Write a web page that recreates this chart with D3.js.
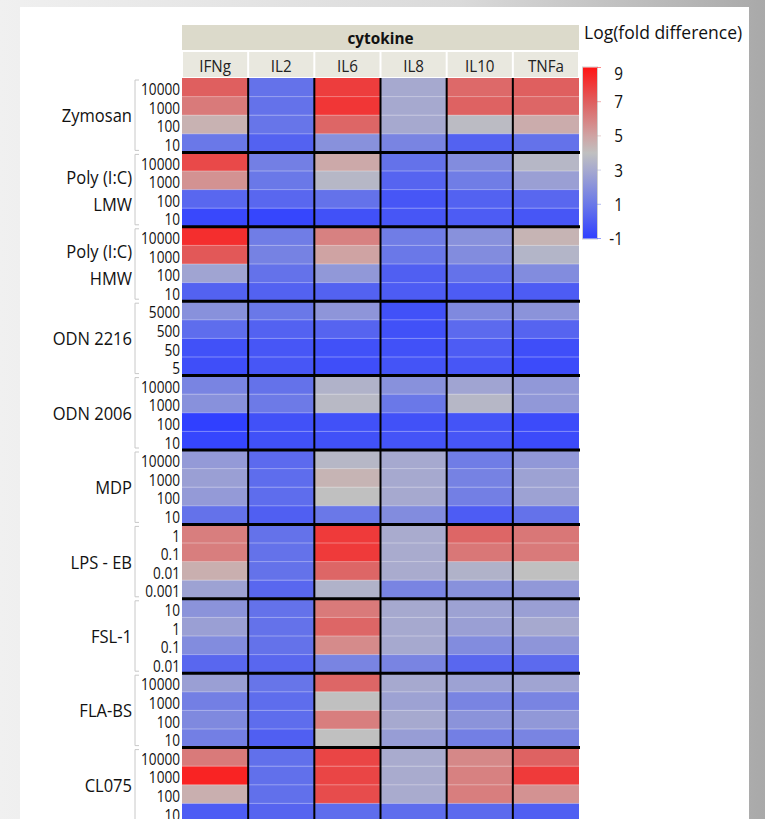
<!DOCTYPE html>
<html>
<head>
<meta charset="utf-8">
<script src="https://cdn.jsdelivr.net/npm/d3@7"></script>
<style>
  html, body { margin: 0; padding: 0; }
  body { width: 765px; height: 819px; overflow: hidden; }
  svg { display: block; font-family: "Open Sans", "Noto Sans", sans-serif; }
</style>
</head>
<body>
<svg id="chart" width="765" height="819"></svg>
<script>
// Cytokine columns
const cytokines = ["IFNg", "IL2", "IL6", "IL8", "IL10", "TNFa"];

// Stimuli (row groups), label lines
const stimuli = [
  ["Zymosan"], ["Poly (I:C)", "LMW"], ["Poly (I:C)", "HMW"], ["ODN 2216"], ["ODN 2006"],
  ["MDP"], ["LPS - EB"], ["FSL-1"], ["FLA-BS"], ["CL075"]
];

// Doses within each stimulus group
const doses = [
  ["10000", "1000", "100", "10"],
  ["10000", "1000", "100", "10"],
  ["10000", "1000", "100", "10"],
  ["5000", "500", "50", "5"],
  ["10000", "1000", "100", "10"],
  ["10000", "1000", "100", "10"],
  ["1", "0.1", "0.01", "0.001"],
  ["10", "1", "0.1", "0.01"],
  ["10000", "1000", "100", "10"],
  ["10000", "1000", "100", "10"]
];

// Log(fold difference), one array per cytokine, rows in stimulus/dose order
const ifng = [7.0, 6.2, 4.5, 1.0,  7.6, 5.5, 0.4, -0.7,  8.3, 7.2, 2.8, 0.2,  2.0, 0.6, -0.4, -0.5,  1.5, 2.0, -1.0, -0.8,
              2.4, 2.6, 2.4, 0.8,  6.1, 6.1, 4.6, 2.7,  2.1, 2.6, 1.8, 0.4,  2.6, 1.3, 1.7, 1.3,  6.2, 8.6, 4.6, 0.0];
const il2  = [0.8, 0.8, 0.9, 0.2,  1.3, 1.0, 0.4, -0.8,  1.2, 1.4, 0.8, 0.2,  1.0, 0.2, -0.2, -0.2,  0.8, 1.1, -0.4, -0.4,
              0.5, 0.6, 0.6, 0.1,  0.8, 0.8, 0.8, 0.4,  0.8, 0.8, 0.8, 0.4,  0.9, 0.6, 0.6, 0.1,  0.7, 0.7, 0.7, 0.3];
const il6  = [7.9, 8.1, 6.8, 2.0,  4.8, 3.6, 0.8, -0.4,  6.0, 5.0, 2.3, 0.2,  2.2, 0.3, -0.4, -0.5,  3.4, 3.7, -0.4, -0.4,
              3.6, 4.4, 4.0, 1.0,  8.0, 8.0, 6.8, 3.4,  6.2, 6.8, 5.7, 1.5,  6.8, 4.0, 6.1, 4.0,  7.7, 7.7, 7.5, 0.6];
const il8  = [3.0, 3.0, 3.0, 1.5,  0.8, 0.3, -0.2, -0.2,  1.2, 1.0, 0.1, 0.0,  -0.4, -0.4, -0.4, -0.3,  2.0, 1.0, -0.4, -0.3,
              3.0, 3.0, 3.0, 1.8,  3.1, 3.1, 3.1, 1.5,  3.0, 3.0, 3.0, 1.5,  3.0, 2.7, 3.0, 2.5,  3.1, 3.1, 3.1, 0.6];
const il10 = [6.7, 6.9, 3.8, 0.2,  1.8, 1.2, 0.2, 0.0,  2.0, 1.8, 0.8, 0.0,  1.7, 0.5, 0.0, -0.2,  2.8, 3.6, -0.3, -0.2,
              1.2, 1.4, 1.3, 0.0,  6.8, 6.3, 3.4, 2.0,  2.7, 2.6, 1.8, 0.4,  2.7, 1.5, 2.1, 1.3,  5.8, 6.0, 6.1, 0.5];
const tnfa = [7.0, 6.8, 4.7, 0.8,  3.6, 2.6, 0.4, -0.2,  4.4, 3.5, 1.8, 0.0,  2.1, 0.3, -0.5, -0.6,  2.3, 2.3, -0.6, -0.6,
              2.3, 2.7, 2.7, 0.8,  6.3, 6.2, 4.0, 2.3,  2.6, 3.0, 2.2, 0.5,  2.8, 1.5, 2.3, 1.5,  6.9, 8.0, 5.5, 0.1];

// Legend ticks and colour ramp stops
const legendTicks = [9, 7, 5, 3, 1, -1];
const rampValues = [-1, 1, 3, 4, 5, 7, 9];
const rampColors = ["#3040ff", "#6a78e8", "#a6a9cf", "#c0c0c0", "#cfa3a3", "#df5f5f", "#ff1414"];

const series = [ifng, il2, il6, il8, il10, tnfa];

const svg = d3.select("#chart");

// Page backdrop and white panel
const defs = svg.append("defs");
const bg = defs.append("linearGradient").attr("id", "bg").attr("x1", "0").attr("x2", "1").attr("y1", "0").attr("y2", "0");
bg.append("stop").attr("offset", "0").attr("stop-color", "#f0f0f0");
bg.append("stop").attr("offset", "0.6").attr("stop-color", "#dadada");
bg.append("stop").attr("offset", "1").attr("stop-color", "#a9a9a9");
svg.append("rect").attr("width", 765).attr("height", 819).attr("fill", "url(#bg)");
svg.append("rect").attr("x", 20).attr("y", 7).attr("width", 729).attr("height", 812).attr("fill", "#ffffff");

const color = d3.scaleLinear().domain(rampValues).range(rampColors).clamp(true);

// Layout of the map
const mapLeft = 182, mapRight = 579, mapTop = 78;
const groupH = 74.4, nGroups = stimuli.length;
const rowsPerGroup = 4;

const x = d3.scaleBand().domain(cytokines).range([mapLeft, mapRight]).padding(0);
const y = d3.scaleBand().domain(d3.range(nGroups * rowsPerGroup)).range([mapTop, mapTop + groupH * nGroups]).padding(0);

// helper: condensed text
function label(parent, tx, ty, str, opts) {
  const g = parent.append("g").attr("transform", `translate(${tx},${ty}) scale(${opts.sx || 1},1)`);
  return g.append("text")
    .attr("text-anchor", opts.anchor || "start")
    .attr("font-size", opts.size)
    .attr("font-weight", opts.weight || "normal")
    .attr("fill", opts.fill || "#111")
    .text(str);
}

// Header bands
svg.append("rect").attr("x", mapLeft).attr("y", 25).attr("width", mapRight - mapLeft).attr("height", 25).attr("fill", "#dcdacb");
label(svg, (mapLeft + mapRight) / 2, 44, "cytokine", { anchor: "middle", size: 16.5, weight: "bold", sx: 0.93 });
const colHead = svg.append("g");
cytokines.forEach(c => {
  colHead.append("rect").attr("x", x(c) + 1).attr("y", 52).attr("width", x.bandwidth() - 2).attr("height", 25).attr("fill", "#e9e8df");
  label(colHead, x(c) + x.bandwidth() / 2, 72, c, { anchor: "middle", size: 16.5, sx: 0.92, fill: "#222" });
});

// Cells
const cells = [];
series.forEach((vals, ci) => vals.forEach((v, ri) => cells.push({ c: cytokines[ci], r: ri, v })));
svg.append("g").selectAll("rect").data(cells).join("rect")
  .attr("x", d => x(d.c))
  .attr("y", d => y(d.r))
  .attr("width", x.bandwidth())
  .attr("height", y.bandwidth() + 0.5)
  .attr("fill", d => color(d.v));

// Faint row separators within groups
const rowLines = svg.append("g").attr("stroke", "#ffffff").attr("stroke-opacity", 0.35).attr("stroke-width", 1);
d3.range(nGroups * rowsPerGroup).filter(r => r % rowsPerGroup !== 0).forEach(r => {
  rowLines.append("line").attr("x1", mapLeft).attr("x2", mapRight).attr("y1", y(r)).attr("y2", y(r));
});

// Column separators
const colLines = svg.append("g").attr("stroke", "#000").attr("stroke-width", 2);
cytokines.slice(1).forEach(c => {
  colLines.append("line").attr("x1", x(c)).attr("x2", x(c)).attr("y1", mapTop).attr("y2", 819);
});

// Group separators
const grpLines = svg.append("g").attr("stroke", "#000").attr("stroke-width", 3);
d3.range(1, nGroups).forEach(g => {
  const yy = y(g * rowsPerGroup);
  grpLines.append("line").attr("x1", mapLeft).attr("x2", mapRight + 1).attr("y1", yy).attr("y2", yy);
});

// Row labels: doses, brackets and stimulus names
const rowLab = svg.append("g");
stimuli.forEach((lines, gi) => {
  const g0 = y(gi * rowsPerGroup), g1 = g0 + groupH;
  rowLab.append("path")
    .attr("d", `M139,${g0 + 2}H135V${g1 - 2}H139`)
    .attr("fill", "none").attr("stroke", "#c8c8c8").attr("stroke-width", 1);
  doses[gi].forEach((d, k) => {
    const r = gi * rowsPerGroup + k;
    label(rowLab, 180, y(r) + y.bandwidth() - 1.5, d, { anchor: "end", size: 15.5, sx: 0.88, fill: "#111" });
  });
  const cy = g0 + groupH / 2;
  if (lines.length === 1) {
    label(rowLab, 132, cy + 7, lines[0], { anchor: "end", size: 19, sx: 0.87 });
  } else {
    label(rowLab, 132, cy - 6, lines[0], { anchor: "end", size: 19, sx: 0.87 });
    label(rowLab, 132, cy + 21, lines[1], { anchor: "end", size: 19, sx: 0.87 });
  }
});

// Legend
const legTop = 67.5, legBottom = 238.5, legX = 583, legW = 14;
const ly = d3.scaleLinear().domain([-1, 9]).range([legBottom, legTop]);
const lg = defs.append("linearGradient").attr("id", "ramp").attr("x1", "0").attr("x2", "0").attr("y1", "1").attr("y2", "0");
rampValues.forEach((v, i) => {
  lg.append("stop").attr("offset", (v + 1) / 10).attr("stop-color", rampColors[i]);
});
const leg = svg.append("g");
label(leg, 584, 39, "Log(fold difference)", { size: 17.5, sx: 1.0, fill: "#111" });
leg.append("rect").attr("x", legX - 0.5).attr("y", legTop - 0.5).attr("width", legW + 1).attr("height", legBottom - legTop + 1)
  .attr("fill", "none").attr("stroke", "#d0d0d0").attr("stroke-width", 1);
leg.append("rect").attr("x", legX).attr("y", legTop).attr("width", legW).attr("height", legBottom - legTop).attr("fill", "url(#ramp)");
legendTicks.forEach(t => {
  leg.append("line").attr("x1", legX + legW).attr("x2", legX + legW + 4).attr("y1", ly(t)).attr("y2", ly(t))
    .attr("stroke", color(t)).attr("stroke-opacity", 0.5).attr("stroke-width", 1);
  const ty = Math.min(Math.max(ly(t), 73), 240) + 6.5;
  label(leg, 623, ty, String(t), { anchor: "end", size: 18, sx: 0.85, fill: "#111" });
});
</script>
</body>
</html>
